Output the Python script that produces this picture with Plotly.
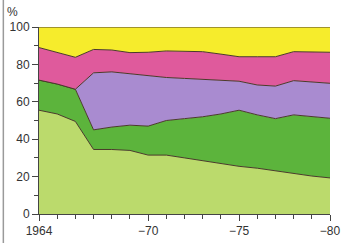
import plotly.graph_objects as go

years = list(range(1964, 1981))
# cumulative boundaries (top of each layer)
light_green = [55.5, 53.5, 49.5, 34.5, 34.5, 34.0, 31.5, 31.5, 30.0, 28.5, 27.0, 25.5, 24.5, 23.0, 21.5, 20.3, 19.3]
dark_green_top = [71.6, 69.5, 66.7, 45.0, 46.5, 47.5, 47.0, 50.0, 51.0, 52.0, 53.5, 55.5, 53.0, 51.0, 53.0, 52.0, 51.2]
purple_top = [71.6, 69.5, 66.7, 75.5, 76.0, 75.0, 73.8, 73.0, 72.5, 72.0, 71.7, 71.0, 69.0, 68.4, 71.3, 70.5, 69.9]
pink_top = [89.0, 86.5, 83.8, 88.0, 87.7, 86.3, 86.5, 87.2, 87.0, 86.8, 85.5, 84.1, 84.1, 84.1, 86.8, 86.7, 86.5]

dark_green = [b - a for a, b in zip(light_green, dark_green_top)]
purple = [b - a for a, b in zip(dark_green_top, purple_top)]
pink = [b - a for a, b in zip(purple_top, pink_top)]
yellow = [100 - a for a in pink_top]

series = [
    ("light green", light_green, "#bbda6c"),
    ("dark green", dark_green, "#5cb43c"),
    ("purple", purple, "#a98bd0"),
    ("pink", pink, "#df5a9c"),
    ("yellow", yellow, "#f6ec2c"),
]

x_tickvals = [1964, 1970, 1975, 1980]
x_ticktext = ["1964", "\u221270", "\u221275", "\u221280"]
y_tickvals = [0, 20, 40, 60, 80, 100]

W, H = 344, 243
L, R, T, B = 39, 3, 27, 29
pw = W - L - R

fig = go.Figure()
for name, vals, col in series:
    fig.add_trace(go.Scatter(
        x=years, y=vals, name=name, stackgroup="one", mode="lines",
        line=dict(color="#4a3a2a", width=1), fillcolor=col, hoverinfo="skip",
    ))

font = dict(family="Liberation Sans, Arial, sans-serif", size=12, color="#333333")
fig.update_layout(
    width=W, height=H,
    margin=dict(l=L, r=R, t=T, b=B),
    paper_bgcolor="white", plot_bgcolor="white",
    showlegend=False, font=font,
    xaxis=dict(range=[1964, 1980], tickvals=x_tickvals, ticktext=x_ticktext,
               ticks="outside", ticklen=6, tickcolor="#444", showline=True,
               linecolor="#444", linewidth=1, showgrid=False, zeroline=False,
               ticklabeloverflow="allow",
               minor=dict(dtick=1, tick0=1964, ticks="outside", ticklen=4, tickcolor="#444", showgrid=False),
               tickfont=font),
    yaxis=dict(range=[0, 100], tickvals=y_tickvals, ticks="outside", ticklen=6,
               tickcolor="#444", showline=True, linecolor="#444", linewidth=1,
               showgrid=False, zeroline=False, ticklabeloverflow="allow",
               minor=dict(dtick=10, tick0=0, ticks="outside", ticklen=4, tickcolor="#444", showgrid=False),
               tickfont=font),
)
fig.add_annotation(text="%", xref="paper", yref="paper", x=(12 - L) / pw, y=1.03,
                   xanchor="center", yanchor="bottom", showarrow=False, font=font)
# scan border at left edge
fig.add_shape(type="line", xref="paper", yref="paper",
              x0=(2 - L) / pw, x1=(2 - L) / pw, y0=-B / (H - T - B), y1=1 + T / (H - T - B),
              line=dict(color="#9a9a9a", width=1.5))
fig.write_html("out.html", config={"displayModeBar": False},
               post_script="document.body.style.margin='0';")
